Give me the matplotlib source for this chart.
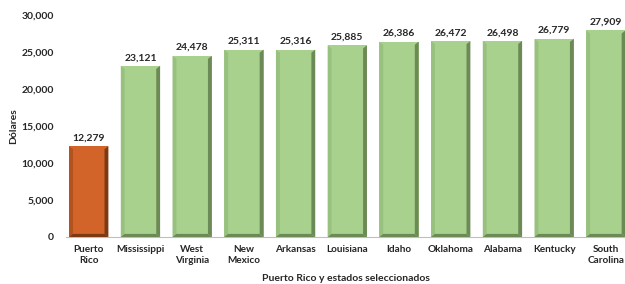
import numpy as np
import matplotlib.pyplot as plt
from matplotlib.patches import Polygon
from matplotlib.ticker import FuncFormatter

plt.rcParams['font.family'] = ['Lato', 'DejaVu Sans']

# data
states = ['Puerto\nRico', 'Mississippi', 'West\nVirginia', 'New\nMexico', 'Arkansas',
          'Louisiana', 'Idaho', 'Oklahoma', 'Alabama', 'Kentucky', 'South\nCarolina']
income = [12279, 23121, 24478, 25311, 25316, 25885, 26386, 26472, 26498, 26779, 27909]

# colours: (face, left edge, right/bottom edge)
pr_colors = ('#d2642a', '#b2521f', '#7c3a14')
st_colors = ('#a9d18e', '#98c07e', '#6c8a56')

fig = plt.figure(figsize=(6.25, 2.84), dpi=100)
ax = fig.add_axes([0.106, 0.1655, 0.894, 0.782])

x = np.arange(len(states))
width = 0.76
bw = 0.075   # bevel width in data units (x)
bh = 420     # bevel height in data units (y)

for i, v in enumerate(income):
    face, light, dark = pr_colors if i == 0 else st_colors
    ax.bar(x[i], v, width=width, color=face, zorder=2)
    l, r = x[i] - width / 2, x[i] + width / 2
    # left bevel
    ax.add_patch(Polygon([(l, 0), (l + bw, bh), (l + bw, v - bh), (l, v)],
                         closed=True, color=light, lw=0, zorder=3))
    # right bevel
    ax.add_patch(Polygon([(r, 0), (r - bw, bh), (r - bw, v - bh), (r, v)],
                         closed=True, color=dark, lw=0, zorder=3))
    # bottom bevel
    ax.add_patch(Polygon([(l, 0), (l + bw, bh), (r - bw, bh), (r, 0)],
                         closed=True, color=dark, lw=0, zorder=3))
    ax.text(x[i], v + 500, f'{v:,}', ha='center', va='bottom',
            fontsize=7.5, fontweight='bold', color='#262626')

ax.set_xlim(-0.435, 10.37)
ax.set_ylim(0, 30000)
ax.set_yticks(np.arange(0, 30001, 5000))
ax.yaxis.set_major_formatter(FuncFormatter(lambda v, p: f'{int(v):,}'))
ax.set_xticks(x)
ax.set_xticklabels(states)
ax.tick_params(axis='both', length=0, labelsize=7.5, colors='#262626')
ax.tick_params(axis='x', pad=6, labelsize=7.2)
ax.tick_params(axis='y', pad=9)
for lbl in ax.get_xticklabels() + ax.get_yticklabels():
    lbl.set_fontweight('bold')

for s in ['top', 'right', 'left']:
    ax.spines[s].set_visible(False)
ax.spines['bottom'].set_color('#bfbfbf')
ax.spines['bottom'].set_linewidth(0.8)

ax.set_ylabel('Dólares', fontsize=7.5, fontweight='bold', color='#262626', labelpad=2)
ax.set_xlabel('Puerto Rico y estados seleccionados', fontsize=7.5, fontweight='bold',
              color='#262626', labelpad=7)

fig.savefig('out.png', dpi=100)
